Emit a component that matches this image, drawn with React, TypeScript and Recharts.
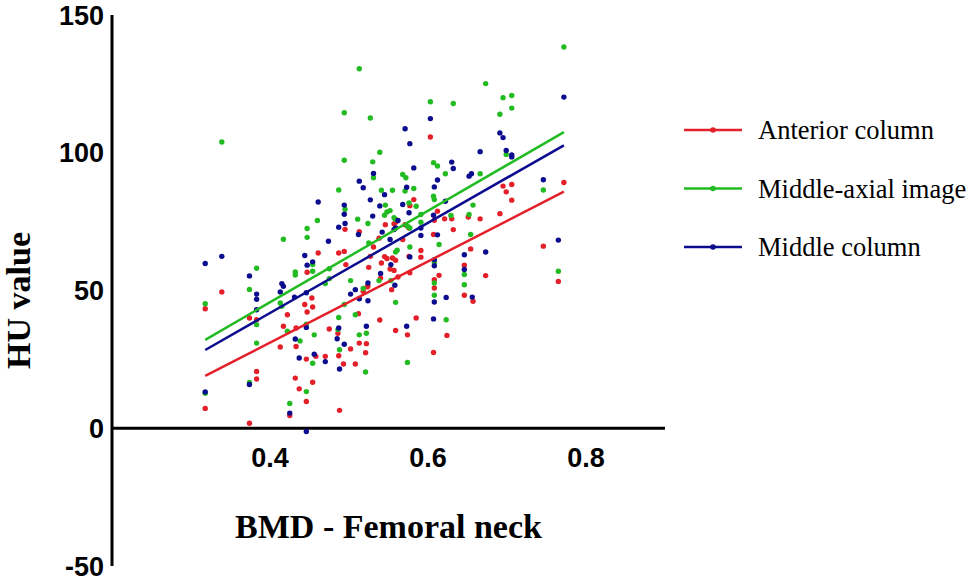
import React from 'react';
import { ScatterChart, Scatter, XAxis, YAxis, ReferenceLine } from 'recharts';

// Anterior column (red)
const anteriorColumn: [number, number][] = [
  [0.461, 63.6], [0.487, 63.6], [0.494, 64.2], [0.495, 72.2], [0.513, 71.3], [0.538, 69], [0.546, 73.9],
  [0.531, 65.8], [0.527, 62.4], [0.545, 62.3], [0.548, 61.6], [0.496, 59.4], [0.525, 58.4], [0.541, 60],
  [0.447, 56.6], [0.524, 51.6], [0.54, 54.5],
  [0.339, 49.5], [0.318, 43.4], [0.374, 40], [0.383, 39.4], [0.422, 41.2], [0.444, 44.9], [0.447, 42.2],
  [0.453, 47.3], [0.454, 44], [0.417, 37], [0.433, 36.4], [0.413, 29.5], [0.433, 29.7], [0.446, 25.1],
  [0.458, 26.1], [0.47, 26.1], [0.475, 36], [0.486, 34.5], [0.487, 26.3], [0.493, 23.3], [0.502, 28.8],
  [0.508, 23.3], [0.513, 30.9], [0.522, 30.7], [0.521, 27.4], [0.512, 41.6], [0.539, 39.3], [0.523, 51.3],
  [0.518, 49.7], [0.554, 50.3], [0.383, 20.6], [0.383, 17.9], [0.432, 18.2], [0.437, 14.3], [0.454, 16.7],
  [0.446, 9.7], [0.425, 4.6], [0.318, 7.2], [0.374, 1.8], [0.488, 6.5],
  [0.603, 105.7], [0.582, 83], [0.577, 80.8], [0.695, 87.9], [0.706, 88.5], [0.699, 85.8], [0.706, 82.8],
  [0.772, 89.2], [0.612, 78.8], [0.691, 77.9], [0.651, 76.7], [0.666, 76], [0.608, 75.5], [0.621, 76],
  [0.63, 76], [0.559, 74.8], [0.557, 74.2], [0.571, 73.9], [0.576, 72.7], [0.632, 72.1], [0.607, 70.3],
  [0.746, 66.1], [0.765, 53.3], [0.654, 65.1], [0.591, 64.5], [0.591, 62.1], [0.576, 62.4], [0.568, 68.5],
  [0.555, 61.8], [0.559, 61], [0.552, 57.8], [0.557, 57.3], [0.577, 56.4], [0.562, 54.9], [0.614, 55.5],
  [0.608, 53.9], [0.673, 55.4], [0.646, 59.2], [0.608, 50.9], [0.646, 48.3], [0.657, 46.1], [0.585, 40],
  [0.559, 35.5], [0.574, 33.9], [0.624, 33.7], [0.607, 27.5],
];

// Middle-axial image (green)
const middleAxialImage: [number, number][] = [
  [0.339, 103.9], [0.539, 100.2], [0.494, 97.3], [0.53, 96.7], [0.531, 90.9], [0.487, 86.5], [0.541, 86.4],
  [0.495, 79.5], [0.546, 81], [0.545, 77.3], [0.548, 78.5], [0.511, 75.9], [0.524, 74.3], [0.46, 75.4],
  [0.447, 72.5], [0.447, 69.3], [0.417, 68.6], [0.525, 67.3], [0.383, 58.1], [0.432, 56.7], [0.432, 55.6],
  [0.454, 59.4], [0.454, 57], [0.475, 57.9], [0.475, 54.3], [0.47, 52.5], [0.502, 53.6],
  [0.318, 45.2], [0.374, 50.4], [0.413, 45.5], [0.415, 44.3], [0.383, 37.6], [0.383, 30.9], [0.422, 35.2],
  [0.438, 31.7], [0.446, 37.8], [0.456, 33.9], [0.454, 23.6], [0.487, 40.2], [0.486, 35.8], [0.488, 28.5],
  [0.494, 44.9], [0.508, 41.2], [0.513, 33.9], [0.522, 34.5], [0.521, 20.4], [0.518, 50.7], [0.538, 53.6],
  [0.553, 53.6], [0.318, 12.7], [0.374, 16.6], [0.425, 9], [0.446, 13.3],
  [0.772, 138.4], [0.673, 125.1], [0.603, 118.5], [0.632, 117.9], [0.695, 120], [0.706, 120.8], [0.706, 116.2],
  [0.691, 114], [0.699, 99.4], [0.746, 86.5], [0.607, 96.4], [0.612, 95.2], [0.622, 92.4], [0.666, 92.4],
  [0.568, 92.1], [0.572, 90.9], [0.555, 86.4], [0.571, 86.1], [0.582, 87], [0.607, 84.2], [0.608, 83],
  [0.576, 81.8], [0.585, 80.6], [0.552, 79], [0.591, 77.6], [0.657, 81], [0.652, 77.6], [0.629, 77.2],
  [0.557, 76.4], [0.559, 75.8], [0.591, 74.8], [0.574, 73.3], [0.577, 72.7], [0.654, 70.3],
  [0.614, 66.7], [0.577, 65.8], [0.561, 64.6], [0.559, 64], [0.608, 60.2], [0.765, 57], [0.646, 55.8],
  [0.646, 52.1], [0.608, 52.7], [0.608, 48.3], [0.559, 45.7], [0.623, 39.4], [0.574, 23.9],
  [0.513, 130.5], [0.494, 114.5], [0.527, 112.6],
];

// Middle column (blue)
const middleColumn: [number, number][] = [
  [0.318, 59.8], [0.339, 62.4], [0.374, 55.3], [0.415, 52.5], [0.417, 51.5], [0.461, 82.1], [0.513, 89.7],
  [0.518, 87.3], [0.531, 92.5], [0.527, 82.9], [0.545, 84.8], [0.539, 80.7], [0.494, 81], [0.494, 77.7],
  [0.495, 74.3], [0.487, 73], [0.53, 77], [0.512, 70.3], [0.542, 71.2], [0.552, 68.5], [0.474, 67.9],
  [0.444, 62.7], [0.447, 59.2], [0.454, 60.4], [0.54, 56.2], [0.553, 59.4],
  [0.383, 48.7], [0.383, 46.8], [0.383, 43], [0.413, 49.5], [0.431, 47.6], [0.446, 49.2], [0.446, 36.6],
  [0.432, 32.4], [0.437, 25.5], [0.456, 26.9], [0.47, 24.2], [0.487, 36.4], [0.485, 32.5], [0.494, 30.5],
  [0.488, 21.5], [0.502, 48.7], [0.508, 50.3], [0.513, 47], [0.524, 46.3], [0.522, 37], [0.524, 52.7],
  [0.318, 13.2], [0.374, 15.9], [0.425, 5.5], [0.446, -1.2],
  [0.772, 120.2], [0.603, 112.4], [0.571, 108.7], [0.577, 103.3], [0.691, 107.2], [0.695, 105.5],
  [0.699, 100.8], [0.706, 99.2], [0.706, 98.5], [0.666, 100.4], [0.582, 94.5], [0.63, 96.6], [0.632, 94.3],
  [0.652, 91.5], [0.655, 92.4], [0.612, 90.1], [0.573, 87.5], [0.608, 87.6], [0.746, 90.2], [0.568, 81.2],
  [0.622, 82.4], [0.576, 78.2], [0.607, 77.3], [0.562, 75.4], [0.557, 72.1], [0.559, 72.7], [0.591, 72.7],
  [0.612, 70.2], [0.591, 70],
  [0.765, 68.3], [0.673, 64], [0.646, 63], [0.608, 61.2], [0.608, 59], [0.646, 57.6], [0.558, 51.9],
  [0.623, 47.5], [0.608, 45.8], [0.656, 47.6], [0.607, 39.7], [0.573, 37], [0.577, 62.2],
];

// Linear fit lines (endpoints)
const anteriorFit: [number, number][] = [[0.318, 19], [0.772, 85.9]];
const middleAxialFit: [number, number][] = [[0.318, 32.1], [0.772, 107.5]];
const middleColumnFit: [number, number][] = [[0.318, 28.4], [0.772, 102.7]];

const xTicks = [0.4, 0.6, 0.8];
const yTicks = [-50, 0, 50, 100, 150];
const seriesNames = ['Anterior column', 'Middle-axial image', 'Middle column'];

const RED = '#e3202a';
const GREEN = '#22bb22';
const BLUE = '#0c0c8e';
const COLORS = [RED, GREEN, BLUE];

const toObj = (arr: [number, number][]) => arr.map(([x, y]) => ({ x, y }));

const SANS = "'Liberation Sans', Arial, sans-serif";
const SERIF = "'Liberation Serif', 'Times New Roman', serif";

const dot = (color: string) => (p: any) => <circle cx={p.cx} cy={p.cy} r={2.7} fill={color} />;
const noShape = () => <g />;

const XTick = (props: any) => {
  const { x, y, payload } = props;
  return (
    <text x={x} y={y - 116} textAnchor="middle" dominantBaseline="central" fill="#000"
      fontSize={27} fontWeight={700} fontFamily={SANS}>
      {payload.value}
    </text>
  );
};

const XLabel = (props: any) => {
  const vb = props.viewBox;
  return (
    <text x={vb.x + vb.width / 2} y={vb.y - 40} textAnchor="middle" dominantBaseline="central"
      fill="#000" fontSize={34} fontWeight={700} fontFamily={SERIF}>
      BMD - Femoral neck
    </text>
  );
};

const YLabel = (props: any) => {
  const vb = props.viewBox;
  const cx = vb.x + 18;
  const cy = vb.y + vb.height / 2 + 10;
  return (
    <text x={cx} y={cy} textAnchor="middle" dominantBaseline="central" transform={`rotate(-90, ${cx}, ${cy})`}
      fill="#000" fontSize={34} fontWeight={700} fontFamily={SERIF}>
      HU value
    </text>
  );
};

export default function App() {
  return (
    <div style={{ position: 'absolute', left: 0, top: 0, width: 974, height: 582, background: '#fff' }}>
      <ScatterChart width={974} height={582} margin={{ top: 15, right: 309, bottom: 2, left: 0 }}>
        <XAxis type="number" dataKey="x" domain={[0.2, 0.9]} ticks={xTicks} allowDataOverflow
          axisLine={false} tickLine={false} height={14} tick={<XTick />} interval={0}
          label={<XLabel />} />
        <YAxis type="number" dataKey="y" domain={[-50, 150]} ticks={yTicks} width={112} interval={0}
          axisLine={{ stroke: '#000', strokeWidth: 3 }} tickLine={false}
          tick={{ fill: '#000', fontSize: 27, fontWeight: 700, fontFamily: SANS }}
          label={<YLabel />} />
        <ReferenceLine y={0} stroke="#000" strokeWidth={3} />
        <Scatter data={toObj(anteriorColumn)} fill={RED} shape={dot(RED)} isAnimationActive={false} />
        <Scatter data={toObj(middleAxialImage)} fill={GREEN} shape={dot(GREEN)} isAnimationActive={false} />
        <Scatter data={toObj(middleColumn)} fill={BLUE} shape={dot(BLUE)} isAnimationActive={false} />
        <Scatter data={toObj(anteriorFit)} line={{ stroke: RED, strokeWidth: 2.5 }} shape={noShape} isAnimationActive={false} />
        <Scatter data={toObj(middleAxialFit)} line={{ stroke: GREEN, strokeWidth: 2.5 }} shape={noShape} isAnimationActive={false} />
        <Scatter data={toObj(middleColumnFit)} line={{ stroke: BLUE, strokeWidth: 2.5 }} shape={noShape} isAnimationActive={false} />
      </ScatterChart>
      <svg width={290} height={170} style={{ position: 'absolute', left: 684, top: 100 }}>
        {seriesNames.map((name, i) => {
          const y = 30 + i * 58.5;
          return (
            <g key={name}>
              <line x1={0} x2={58} y1={y} y2={y} stroke={COLORS[i]} strokeWidth={2.5} />
              <circle cx={29} cy={y} r={2.8} fill={COLORS[i]} />
              <text x={74} y={y} dominantBaseline="central" fill="#000" fontSize={26.5} fontFamily={SERIF}>
                {name}
              </text>
            </g>
          );
        })}
      </svg>
    </div>
  );
}
